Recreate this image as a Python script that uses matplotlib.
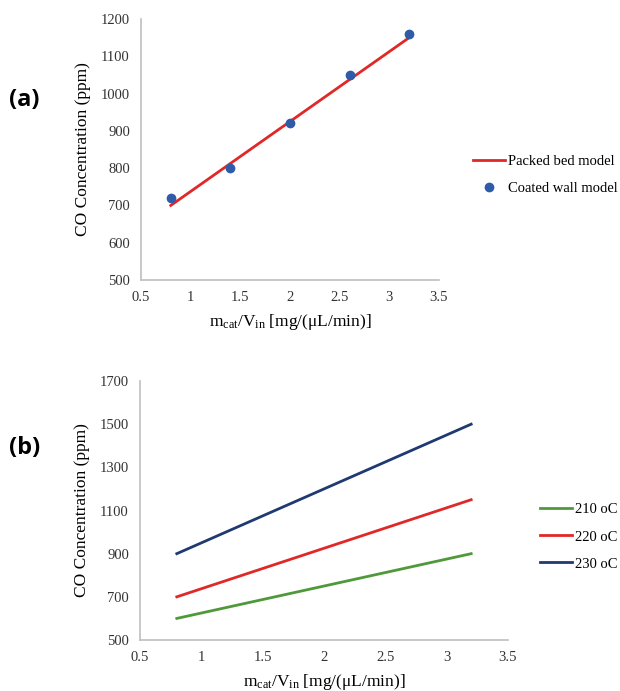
import numpy as np
import matplotlib
matplotlib.use("Agg")
import matplotlib.pyplot as plt

plt.rcParams["font.family"] = ["Liberation Serif", "DejaVu Serif"]
plt.rcParams["mathtext.fontset"] = "custom"
plt.rcParams["mathtext.rm"] = "Liberation Serif"
plt.rcParams["mathtext.it"] = "Liberation Serif:italic"

# panel (a) data
x_a = [0.8, 3.2]
packed_bed = [700, 1150]
x_pts = [0.8, 1.4, 2.0, 2.6, 3.2]
coated_wall = [720, 800, 920, 1050, 1160]

# panel (b) data
x_b = [0.8, 3.2]
temps = ["210 oC", "220 oC", "230 oC"]
conc_b = [[600, 900], [700, 1150], [900, 1500]]
colors_b = ["#4E9A3A", "#E02828", "#1F3A70"]

XLABEL = r"m$_{\rm cat}$/V$_{\rm in}$ [mg/(μL/min)]"
YLABEL = "CO Concentration (ppm)"
GRAY = "#BFBFBF"


def style_axis(ax):
    for s in ["top", "right"]:
        ax.spines[s].set_visible(False)
    for s in ["left", "bottom"]:
        ax.spines[s].set_color(GRAY)
        ax.spines[s].set_linewidth(1.2)
    ax.tick_params(length=0, labelsize=10.5, colors="#333333")
    ax.tick_params(axis="x", pad=8)
    ax.tick_params(axis="y", pad=8)
    ax.set_xlim(0.5, 3.5)
    ax.set_xticks([0.5, 1, 1.5, 2, 2.5, 3, 3.5])
    ax.set_xticklabels(["0.5", "1", "1.5", "2", "2.5", "3", "3.5"])


def side_legend(ax, x, y):
    ax.legend(loc="center left", bbox_to_anchor=(x, y), bbox_transform=fig.transFigure,
              frameon=False, fontsize=10.5, handlelength=2.2, handletextpad=0.2,
              labelspacing=0.95, borderaxespad=0, borderpad=0)


fig = plt.figure(figsize=(6.2, 6.91), dpi=100)

# (a)
ax1 = fig.add_axes([0.2274, 0.5948, 0.4806, 0.3777])
ax1.plot(x_a, packed_bed, color="#E02828", lw=2, label="Packed bed model")
ax1.plot(x_pts, coated_wall, "o", color="#2E5CA8", ms=6, label="Coated wall model")
style_axis(ax1)
ax1.set_ylim(500, 1200)
ax1.set_yticks(range(500, 1201, 100))
ax1.set_xlabel(XLABEL, fontsize=12.5, labelpad=6)
ax1.set_ylabel(YLABEL, fontsize=12.5, labelpad=7)
side_legend(ax1, 0.763, 0.747)

# (b)
ax2 = fig.add_axes([0.2258, 0.0738, 0.5935, 0.3748])
for c, vals, col in zip(temps, conc_b, colors_b):
    ax2.plot(x_b, vals, color=col, lw=2, label=c)
style_axis(ax2)
ax2.set_ylim(500, 1700)
ax2.set_yticks(range(500, 1701, 200))
ax2.set_xlabel(XLABEL, fontsize=12.5, labelpad=6)
ax2.set_ylabel(YLABEL, fontsize=12.5, labelpad=7)
side_legend(ax2, 0.871, 0.223)

fig.text(0.015, 0.855, "(a)", fontsize=17, fontweight="bold", va="center",
         family=["Open Sans", "DejaVu Sans"])
fig.text(0.015, 0.352, "(b)", fontsize=17, fontweight="bold", va="center",
         family=["Open Sans", "DejaVu Sans"])

fig.savefig("out.png", dpi=100)
